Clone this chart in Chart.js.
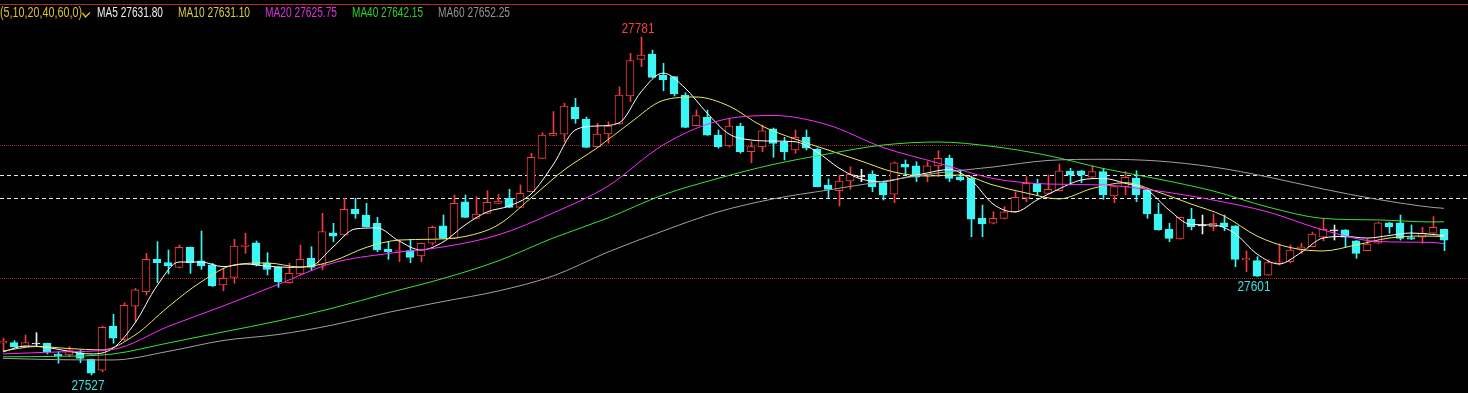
<!DOCTYPE html>
<html><head><meta charset="utf-8">
<script src="https://cdn.jsdelivr.net/npm/chart.js@4.4.1/dist/chart.umd.min.js"></script>
<style>html,body{margin:0;padding:0;background:#000;overflow:hidden}#wrap{width:1468px;height:393px}</style>
</head><body><div id="wrap"><canvas id="c" width="1468" height="393" style="width:1468px;height:393px"></canvas></div>
<script>
// ---- candle data (index 0..131) ----
const opens = [
27551.0,27551.3,27548.3,27550.3,27550.8,27542.8,27542.0,27543.7,27539.0,27530.7,
27563.8,27553.8,27578.8,27589.6,27613.9,27611.4,27607.9,27623.0,27612.7,27609.7,
27594.6,27600.4,27623.6,27626.4,27610.9,27607.9,27596.4,27602.9,27614.7,27609.7,
27633.9,27632.2,27651.5,27647.2,27641.0,27621.4,27619.8,27620.4,27616.4,27626.0,
27639.0,27629.7,27657.2,27644.7,27648.5,27656.0,27659.8,27653.0,27664.7,27689.8,
27707.1,27707.9,27728.2,27719.4,27698.6,27708.1,27715.6,27736.7,27764.2,27768.2,
27752.4,27751.2,27737.4,27714.3,27720.6,27707.3,27699.1,27714.1,27694.8,27698.6,
27711.9,27702.3,27696.1,27705.6,27696.6,27669.8,27665.5,27672.8,27676.0,27678.0,
27671.5,27662.8,27685.3,27684.1,27677.3,27684.1,27689.8,27676.0,27674.8,27644.7,
27641.0,27644.7,27649.7,27659.8,27671.1,27663.5,27665.5,27680.3,27680.5,27675.6,
27679.8,27661.5,27668.5,27674.8,27666.0,27648.0,27636.5,27629.2,27644.0,27639.0,
27638.4,27641.4,27639.0,27613.4,27612.9,27602.1,27610.9,27612.1,27621.4,27623.4,
27630.5,27635.4,27636.0,27627.9,27620.4,27626.0,27641.4,27641.4,27630.2,27630.5,
27633.5,27636.5];
const highs = [
27554.8,27552.8,27557.0,27558.8,27551.0,27544.5,27548.3,27545.8,27539.0,27563.8,
27572.6,27581.3,27592.1,27618.4,27627.2,27620.9,27624.7,27623.2,27635.2,27610.9,
27607.2,27629.0,27633.5,27627.7,27618.9,27608.2,27610.9,27624.7,27623.4,27648.5,
27641.0,27659.8,27659.8,27656.0,27645.5,27627.2,27628.4,27629.0,27626.2,27639.0,
27647.2,27662.3,27662.3,27661.0,27665.5,27662.8,27666.5,27669.8,27693.6,27709.1,
27724.9,27731.2,27734.9,27720.9,27716.1,27717.3,27743.6,27768.7,27781.0,27771.2,
27761.2,27751.4,27739.1,27726.1,27726.1,27711.1,27719.9,27716.1,27702.3,27714.9,
27712.6,27705.6,27711.1,27711.1,27697.6,27674.3,27677.3,27683.5,27681.6,27680.5,
27672.0,27687.1,27688.6,27687.3,27687.3,27695.6,27692.3,27681.0,27676.5,27654.7,
27649.7,27653.5,27664.7,27676.0,27674.1,27677.3,27685.6,27682.3,27680.7,27684.1,
27682.3,27668.7,27679.8,27680.5,27666.2,27656.0,27641.0,27645.7,27652.3,27647.2,
27648.0,27647.2,27639.2,27620.2,27615.9,27613.4,27625.4,27624.7,27626.0,27634.4,
27644.0,27639.7,27636.2,27628.1,27629.0,27641.9,27641.6,27647.2,27639.7,27638.0,
27646.0,27636.7];
const lows = [
27545.0,27548.0,27548.0,27548.3,27542.8,27535.8,27540.7,27536.2,27527.0,27529.5,
27550.8,27553.0,27567.0,27587.1,27596.4,27602.9,27607.5,27603.4,27606.4,27593.4,
27590.3,27595.9,27618.4,27608.9,27602.1,27592.9,27595.9,27602.5,27605.4,27605.9,
27627.2,27631.8,27644.7,27638.2,27619.6,27613.9,27612.1,27611.4,27612.1,27624.7,
27629.5,27629.5,27645.3,27644.5,27648.3,27655.8,27652.8,27652.8,27664.5,27689.6,
27706.9,27702.3,27716.1,27697.9,27698.4,27701.1,27715.4,27732.4,27758.7,27750.5,
27740.6,27736.7,27712.9,27714.1,27707.1,27697.4,27698.3,27693.6,27686.5,27694.8,
27690.6,27688.6,27693.6,27696.1,27668.3,27659.8,27654.0,27666.5,27672.3,27664.7,
27658.5,27656.5,27677.3,27672.3,27672.3,27676.0,27672.3,27672.8,27630.9,27630.9,
27640.5,27644.2,27649.5,27657.2,27662.3,27663.3,27665.3,27669.8,27671.5,27675.4,
27659.0,27656.5,27662.3,27657.2,27644.7,27635.8,27627.2,27629.0,27636.0,27633.0,
27635.4,27635.4,27608.4,27604.6,27601.0,27601.9,27609.7,27611.2,27618.4,27623.2,
27627.9,27628.4,27623.0,27614.7,27620.2,27625.8,27633.5,27628.4,27628.8,27626.0,
27633.3,27620.4];
const closes = [
27552.5,27548.3,27551.3,27550.3,27544.5,27541.3,27545.8,27539.5,27528.3,27562.8,
27554.6,27579.4,27590.9,27613.9,27611.4,27608.9,27623.0,27611.4,27608.9,27593.9,
27599.7,27623.9,27624.7,27609.7,27606.4,27597.1,27603.4,27613.9,27607.9,27634.7,
27631.4,27651.5,27648.0,27638.4,27620.9,27619.6,27620.5,27615.4,27626.0,27638.0,
27629.7,27656.0,27645.5,27648.0,27656.8,27657.7,27653.0,27663.5,27690.6,27707.3,
27708.6,27729.1,27719.4,27698.1,27708.1,27714.1,27737.4,27763.2,27767.5,27750.7,
27748.7,27738.2,27713.1,27721.9,27707.3,27698.6,27714.1,27694.8,27698.6,27710.4,
27701.1,27694.8,27705.6,27697.4,27668.5,27666.5,27672.8,27677.8,27676.0,27668.5,
27662.3,27686.5,27683.1,27675.6,27684.1,27689.8,27674.8,27673.5,27644.0,27640.5,
27644.7,27649.7,27660.5,27671.1,27664.7,27666.5,27680.5,27677.3,27677.3,27679.8,
27662.3,27668.5,27675.6,27662.3,27648.0,27636.0,27629.7,27645.5,27638.4,27639.0,
27641.0,27638.4,27613.9,27614.7,27601.2,27611.4,27612.1,27620.9,27623.4,27632.9,
27636.5,27635.4,27630.5,27618.4,27625.4,27641.4,27638.4,27629.7,27629.0,27633.5,
27638.0,27628.4];

// ---- moving averages at candle indices ----
const maPeriods = [5, 10, 20, 40, 60];
const ma5Idx = [0,2,4,6,8,10,12,14,16,18,20,22,24,26,28,30,32,34,36,38,40,42,44,46,48,50,52,54,56,58,60,62,64,66,68,70,72,74,76,78,80,82,84,86,88,90,92,94,96,98,100,102,104,106,108,110,112,114,116,118,120,122,124,126,128,130,131];
const ma5 = [27544.3,27548.8,27547.8,27544.7,27542.8,27547.1,27566.1,27594.0,27611.9,27611.9,
27608.4,27610.4,27608.8,27607.9,27608.9,27623.2,27636.7,27637.5,27627.7,27620.9,
27626.9,27639.7,27649.5,27654.0,27663.0,27684.8,27711.0,27714.1,27716.4,27739.7,
27753.9,27742.7,27723.9,27708.1,27703.6,27702.8,27702.3,27694.6,27682.5,27674.3,
27672.4,27675.4,27678.8,27681.4,27673.5,27655.5,27649.5,27658.5,27666.8,27673.5,
27674.7,27671.1,27666.0,27651.0,27640.1,27639.7,27633.3,27617.9,27610.4,27619.0,
27629.9,27631.1,27629.9,27631.8,27633.7,27632.6,27631.8];
const ma10Idx = [0,3,6,9,12,15,18,21,24,27,30,33,36,39,42,45,48,51,54,57,60,63,66,69,72,75,78,81,84,87,90,93,96,99,102,105,108,111,114,117,120,123,126,129,131];
const ma10 = [27545.0,27548.4,27546.9,27545.8,27557.0,27578.1,27596.9,27609.7,27611.2,27608.1,
27612.7,27622.8,27628.4,27629.0,27631.1,27639.7,27660.0,27681.0,27697.6,27716.4,
27733.3,27735.9,27729.1,27714.1,27704.3,27696.1,27687.8,27679.5,27676.5,27677.3,
27669.8,27663.8,27659.3,27667.1,27671.5,27664.5,27655.5,27646.5,27631.4,27622.8,
27620.2,27624.7,27629.9,27631.4,27631.1];
const slowIdx = [0,5,10,15,20,25,30,35,40,45,50,55,60,65,70,75,80,85,90,95,100,105,110,115,120,125,130,131];
const ma20 = [27542.8,27544.3,27546.3,27563.4,27578.8,27595.0,27611.2,27618.3,27623.2,27632.2,
27648.7,27669.0,27699.8,27717.9,27722.0,27714.9,27698.0,27686.3,27674.7,27670.5,
27669.8,27665.3,27658.5,27649.5,27636.0,27627.3,27626.6,27625.75];
const ma40 = [27540.7,27541.0,27542.8,27551.0,27559.3,27567.6,27577.3,27588.6,27599.5,27612.7,
27629.9,27645.0,27662.3,27674.7,27685.2,27693.1,27699.8,27702.1,27698.7,27691.9,
27682.2,27674.3,27665.3,27653.2,27644.7,27643.5,27642.0,27642.15];
const ma60 = [27539.5,27538.5,27538.3,27544.7,27552.9,27557.4,27564.6,27574.0,27582.2,27590.1,
27601.4,27619.4,27635.2,27649.5,27659.3,27666.0,27672.6,27678.8,27683.3,27688.2,
27689.1,27687.8,27683.3,27675.8,27666.8,27658.9,27652.9,27652.25];

// ---- price levels ----
const gridLevels = [27700, 27600];
const refLevels = [27677.3, 27660.2];

// ---- styling ----
const RED = '#f03c3c', CYAN = '#3cf5f5', WHITE = '#f0f0f0';
const maColors = ['#ffffff', '#e8e86a', '#ff2cff', '#3ce03c', '#a0a0a0'];
const maTextColors = ['#f0f0f0', '#d9cc4a', '#e22ee2', '#2fd02f', '#939393'];

const N = opens.length;
const candleColor = i => closes[i] > opens[i] ? RED : (closes[i] < opens[i] ? CYAN : WHITE);
const wickData = opens.map((o, i) => ({x: i, y: [lows[i], highs[i]]}));
const bodyData = opens.map((o, i) => ({x: i, y: [o, closes[i]]}));
const mk = (idx, vals) => idx.map((x, k) => ({x, y: vals[k]}));
const maSets = [[ma5Idx, ma5], [ma10Idx, ma10], [slowIdx, ma20], [slowIdx, ma40], [slowIdx, ma60]];

function fitText(ctx, text, x, base, width, color, size) {
  ctx.save();
  ctx.font = size + 'px "Liberation Sans", Arial, sans-serif';
  ctx.fillStyle = color;
  ctx.textBaseline = 'alphabetic';
  const w = ctx.measureText(text).width;
  ctx.translate(x, base);
  ctx.scale(width / w, 1);
  ctx.fillText(text, 0, 0);
  ctx.restore();
}

const deco = {
  id: 'deco',
  beforeDraw(chart) {
    const ctx = chart.ctx;
    ctx.save(); ctx.fillStyle = '#000'; ctx.fillRect(0, 0, chart.width, chart.height); ctx.restore();
  },
  beforeDatasetsDraw(chart) {
    const {ctx} = chart, y = chart.scales.y;
    ctx.save();
    ctx.lineWidth = 1;
    ctx.strokeStyle = '#9a2a2a'; ctx.setLineDash([1, 1]);
    gridLevels.forEach(v => { const py = Math.round(y.getPixelForValue(v)) + 0.5; ctx.beginPath(); ctx.moveTo(0, py); ctx.lineTo(chart.width, py); ctx.stroke(); });
    ctx.strokeStyle = '#e8e8e8'; ctx.setLineDash([4, 3]);
    refLevels.forEach(v => { const py = Math.round(y.getPixelForValue(v)) + 0.5; ctx.beginPath(); ctx.moveTo(0, py); ctx.lineTo(chart.width, py); ctx.stroke(); });
    ctx.restore();
  },
  afterDatasetsDraw(chart) {
    const {ctx} = chart, x = chart.scales.x, y = chart.scales.y;
    ctx.save();
    // top frame line
    ctx.strokeStyle = '#b42a2a'; ctx.lineWidth = 1;
    ctx.beginPath(); ctx.moveTo(0, 4.5); ctx.lineTo(chart.width, 4.5); ctx.stroke();
    // legend
    fitText(ctx, '(' + maPeriods.join(',') + ',0)', 0, 17, 82, '#e0c020', 14);
    ctx.strokeStyle = '#e0c020'; ctx.lineWidth = 1.3;
    ctx.beginPath(); ctx.moveTo(82.5, 13); ctx.lineTo(85.5, 17); ctx.lineTo(90, 12.5); ctx.stroke();
    const lx = [97, 178, 265, 352, 438], lw = [66, 72, 72, 71, 72];
    maSets.forEach((s, k) => {
      const v = s[1][s[1].length - 1];
      fitText(ctx, 'MA' + maPeriods[k] + ' ' + v.toFixed(2), lx[k], 17, lw[k], maTextColors[k], 14);
    });
    // high / low marks
    let hi = 0, lo = 0, lo2 = N - 30;
    for (let i = 0; i < N; i++) { if (highs[i] > highs[hi]) hi = i; if (lows[i] < lows[lo]) lo = i; }
    for (let i = N - 30; i < N; i++) if (lows[i] < lows[lo2]) lo2 = i;
    const cx = i => x.getPixelForValue(i) - 3;
    fitText(ctx, String(Math.round(highs[hi])), cx(hi) - 16.5, y.getPixelForValue(highs[hi]) - 4, 33, '#f04040', 14);
    fitText(ctx, String(Math.round(lows[lo])), cx(lo) - 16.5, y.getPixelForValue(lows[lo]) + 15, 33, '#3ce0e0', 14);
    fitText(ctx, String(Math.round(lows[lo2])), cx(lo2) - 16.5, y.getPixelForValue(lows[lo2]) + 14, 33, '#3ce0e0', 14);
    ctx.restore();
  }
};

const x0 = -3 / 11, span = 1468 / 11;
new Chart(document.getElementById('c'), {
  type: 'bar',
  data: {
    datasets: [
      ...maSets.map((s, k) => ({
        type: 'line', data: mk(s[0], s[1]), borderColor: maColors[k], borderWidth: 1,
        pointRadius: 0, cubicInterpolationMode: 'monotone', xAxisID: 'x', order: -1 - k, fill: false
      })),
      {
        type: 'bar', data: bodyData, xAxisID: 'x', grouped: false, barThickness: 8, minBarLength: 1,
        backgroundColor: opens.map((o, i) => closes[i] > o ? '#000' : (closes[i] < o ? CYAN : WHITE)),
        borderColor: opens.map((o, i) => candleColor(i)), borderWidth: 1, borderSkipped: false, order: 1
      },
      {
        type: 'bar', data: wickData, xAxisID: 'xw', grouped: false, barThickness: 1,
        backgroundColor: opens.map((o, i) => candleColor(i)), borderWidth: 0, order: 2
      }
    ]
  },
  options: {
    responsive: false, animation: false, devicePixelRatio: 1,
    layout: {padding: 0},
    plugins: {legend: {display: false}, tooltip: {enabled: false}},
    scales: {
      x: {type: 'linear', display: false, min: x0, max: x0 + span, offset: false},
      xw: {type: 'linear', display: false, min: x0 - 0.5 / 11, max: x0 - 0.5 / 11 + span, offset: false},
      y: {display: false, min: 27513.46, max: 27808.8}
    }
  },
  plugins: [deco]
});
</script>
</body></html>
